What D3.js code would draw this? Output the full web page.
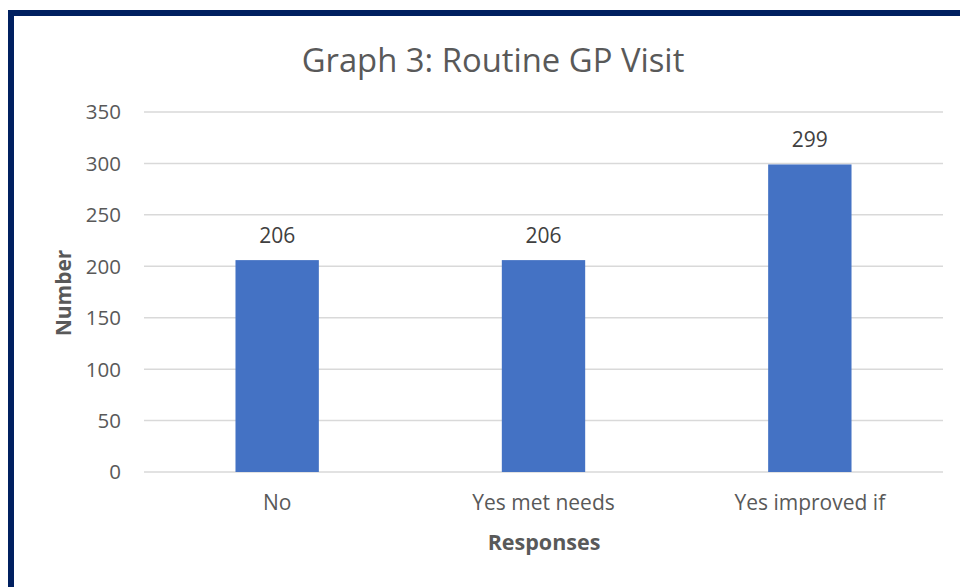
<!DOCTYPE html>
<html>
<head>
<meta charset="utf-8">
<script src="https://cdn.jsdelivr.net/npm/d3@7"></script>
<style>
  body { margin: 0; background: #fff; }
  text { font-family: "Open Sans", sans-serif; }
</style>
</head>
<body>
<div id="chart"></div>
<script>
// data
var categories = ["No", "Yes met needs", "Yes improved if"];
var values = [206, 206, 299];
var yTicks = [0, 50, 100, 150, 200, 250, 300, 350];

var W = 960, H = 587;
var margin = {top: 112, right: 17, bottom: 115, left: 144};
var width = W - margin.left - margin.right,
    height = H - margin.top - margin.bottom;

var svg = d3.select("#chart").append("svg")
  .attr("width", W)
  .attr("height", H);

// frame (only top and left edges show in the crop)
svg.append("rect").attr("x", 8).attr("y", 10).attr("width", W - 8).attr("height", 6).attr("fill", "#002060");
svg.append("rect").attr("x", 8).attr("y", 10).attr("width", 6).attr("height", H - 10).attr("fill", "#002060");

var g = svg.append("g")
  .attr("transform", "translate(" + margin.left + "," + margin.top + ")");

var x = d3.scaleBand().domain(categories).range([0, width]).padding(0);
var y = d3.scaleLinear().domain([0, 350]).range([height, 0]);
var barW = x.bandwidth() * 0.313;

// gridlines
g.selectAll("line.grid")
  .data(yTicks)
  .enter().append("line")
  .attr("class", "grid")
  .attr("x1", 0).attr("x2", width)
  .attr("y1", function(d){ return y(d); })
  .attr("y2", function(d){ return y(d); })
  .attr("stroke", "#d9d9d9")
  .attr("stroke-width", 1.5);

// y tick labels
g.selectAll("text.ytick")
  .data(yTicks)
  .enter().append("text")
  .attr("class", "ytick")
  .attr("x", -23)
  .attr("y", function(d){ return y(d); })
  .attr("dy", "0.36em")
  .attr("text-anchor", "end")
  .attr("fill", "#595959")
  .style("font-size", "20.5px")
  .text(function(d){ return d; });

// bars
g.selectAll("rect.bar")
  .data(values)
  .enter().append("rect")
  .attr("class", "bar")
  .attr("x", function(d, i){ return x(categories[i]) + (x.bandwidth() - barW) / 2; })
  .attr("y", function(d){ return y(d); })
  .attr("width", barW)
  .attr("height", function(d){ return height - y(d); })
  .attr("fill", "#4472c4");

// value labels
g.selectAll("text.val")
  .data(values)
  .enter().append("text")
  .attr("class", "val")
  .attr("x", function(d, i){ return x(categories[i]) + x.bandwidth() / 2; })
  .attr("y", function(d){ return y(d) - 17.5; })
  .attr("text-anchor", "middle")
  .attr("fill", "#404040")
  .style("font-size", "21px")
  .text(function(d){ return d; });

// category labels
g.selectAll("text.cat")
  .data(categories)
  .enter().append("text")
  .attr("class", "cat")
  .attr("x", function(d){ return x(d) + x.bandwidth() / 2; })
  .attr("y", height + 38)
  .attr("text-anchor", "middle")
  .attr("fill", "#595959")
  .style("font-size", "21px")
  .text(function(d){ return d; });

// title
svg.append("text")
  .attr("x", 493)
  .attr("y", 72)
  .attr("text-anchor", "middle")
  .attr("fill", "#595959")
  .style("font-size", "32.8px")
  .text("Graph 3: Routine GP Visit");

// axis titles
svg.append("text")
  .attr("transform", "translate(71," + 293 + ") rotate(-90)")
  .attr("text-anchor", "middle")
  .attr("fill", "#595959")
  .style("font-size", "21px")
  .style("font-weight", "bold")
  .text("Number");

svg.append("text")
  .attr("x", 544)
  .attr("y", 550)
  .attr("text-anchor", "middle")
  .attr("fill", "#595959")
  .style("font-size", "21.5px")
  .style("font-weight", "bold")
  .text("Responses");
</script>
</body>
</html>
